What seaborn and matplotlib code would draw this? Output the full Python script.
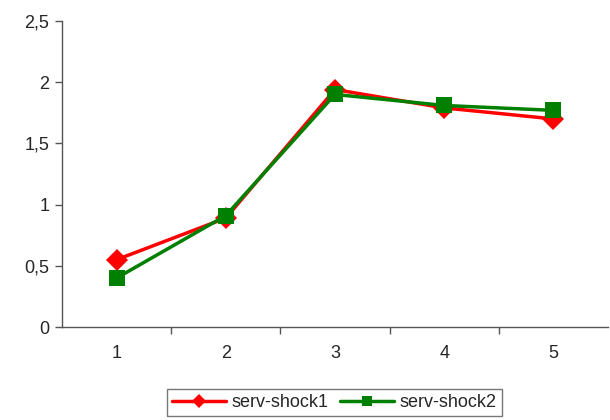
import pandas as pd
import matplotlib
matplotlib.use("Agg")
import matplotlib.pyplot as plt
import seaborn as sns

categories = [1, 2, 3, 4, 5]
shock1 = [0.55, 0.89, 1.94, 1.79, 1.70]
shock2 = [0.40, 0.91, 1.90, 1.81, 1.77]
series_names = ["serv-shock1", "serv-shock2"]
y_ticks = [0, 0.5, 1, 1.5, 2, 2.5]
y_labels = ["0", "0,5", "1", "1,5", "2", "2,5"]

df = pd.DataFrame({
    "x": categories * 2,
    "value": shock1 + shock2,
    "series": [series_names[0]] * 5 + [series_names[1]] * 5,
})

sns.set_style("white")
plt.rcParams['font.family'] = ['Liberation Sans', 'DejaVu Sans']

fig = plt.figure(figsize=(6.1, 4.2), dpi=100)
ax = fig.add_axes([0.1016, 0.2214, 0.895, 0.7286])

sns.lineplot(data=df, x="x", y="value", hue="series", style="series",
             palette={"serv-shock1": "#ff0000", "serv-shock2": "#008000"},
             markers={"serv-shock1": "D", "serv-shock2": "s"},
             dashes=False, linewidth=2.5, markersize=11.5, markeredgewidth=0,
             ax=ax, legend=False)

ax.set_xlim(0.5, 5.5)
ax.set_ylim(0, 2.5)
ax.set_xticks(categories)
ax.set_xticklabels([str(c) for c in categories], fontsize=13)
ax.set_xticks([1.5, 2.5, 3.5, 4.5], minor=True)
ax.tick_params(axis="x", which="major", length=0, pad=13)
ax.tick_params(axis="x", which="minor", length=5, width=1, color="#555555", direction="out", bottom=True)
ax.set_yticks(y_ticks)
ax.set_yticklabels(y_labels, fontsize=13)
ax.tick_params(axis="y", length=5, width=1, color="#555555", direction="out", left=True, pad=4)
ax.set_xlabel("")
ax.set_ylabel("")
for side in ["top", "right"]:
    ax.spines[side].set_visible(False)
for side in ["left", "bottom"]:
    ax.spines[side].set_color("#555555")
    ax.spines[side].set_linewidth(1)

handles = [
    plt.Line2D([], [], color="#ff0000", marker="D", linewidth=2.5, markersize=7, markeredgewidth=0),
    plt.Line2D([], [], color="#008000", marker="s", linewidth=2.5, markersize=7, markeredgewidth=0),
]
leg = fig.legend(handles, series_names, loc="upper center", bbox_to_anchor=(0.548, 0.075),
                 ncol=2, frameon=True, fancybox=False, fontsize=13, handlelength=3,
                 columnspacing=0.6, handletextpad=0.3, borderpad=0.3, borderaxespad=0)
leg.get_frame().set_edgecolor("#555555")
leg.get_frame().set_linewidth(1)

fig.savefig("out.png", dpi=100)
